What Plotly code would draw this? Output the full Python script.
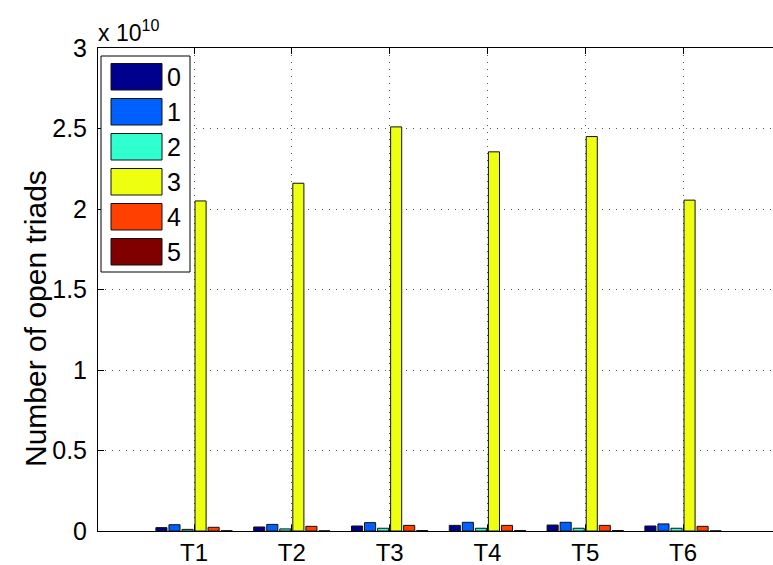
import plotly.graph_objects as go

# Time windows and open-triad counts per triad type
periods = ["T1", "T2", "T3", "T4", "T5", "T6"]
series_names = ["0", "1", "2", "3", "4", "5"]
type0 = [0.021e10, 0.025e10, 0.031e10, 0.035e10, 0.037e10, 0.031e10]
type1 = [0.039e10, 0.041e10, 0.052e10, 0.054e10, 0.054e10, 0.044e10]
type2 = [0.010e10, 0.013e10, 0.017e10, 0.017e10, 0.017e10, 0.017e10]
type3 = [2.05e10, 2.16e10, 2.51e10, 2.355e10, 2.45e10, 2.055e10]
type4 = [0.023e10, 0.029e10, 0.035e10, 0.035e10, 0.035e10, 0.029e10]
type5 = [0.002e10, 0.001e10, 0.003e10, 0.003e10, 0.003e10, 0.001e10]
y_tick_vals = [0, 0.5e10, 1e10, 1.5e10, 2e10, 2.5e10, 3e10]
y_tick_text = ["0", "0.5", "1", "1.5", "2", "2.5", "3"]

series_values = [type0, type1, type2, type3, type4, type5]
colors = ["#00008F", "#0060FF", "#30FFCF", "#EFFF10", "#FF4000", "#800000"]

W, H = 773, 565
L, R, T, B = 98, 0, 48, 34
FONT = "Liberation Sans, Arial, sans-serif"

x_pos = list(range(1, len(periods) + 1))

fig = go.Figure()
for name, vals, col in zip(series_names, series_values, colors):
    fig.add_trace(go.Bar(
        x=x_pos, y=vals, name=name,
        marker=dict(color=col, line=dict(color="#111111", width=1)),
        showlegend=False,
    ))

# pixel -> paper helpers for the hand-built legend
pw = W - L - R
ph = H - T - B


def px_x(p):
    return (p - L) / pw


def px_y(p):
    return (H - B - p) / ph


shapes = []
annotations = []
# legend frame
shapes.append(dict(type="rect", xref="paper", yref="paper",
                   x0=px_x(101), x1=px_x(190), y0=px_y(272), y1=px_y(56),
                   fillcolor="white", line=dict(color="black", width=1),
                   layer="above"))
for i, (name, col) in enumerate(zip(series_names, colors)):
    top = 63.5 + 35 * i
    shapes.append(dict(type="rect", xref="paper", yref="paper",
                       x0=px_x(111), x1=px_x(162), y0=px_y(top + 26.5), y1=px_y(top),
                       fillcolor=col, line=dict(color="#111111", width=1),
                       layer="above"))
    annotations.append(dict(xref="paper", yref="paper", x=px_x(165), y=px_y(top + 13.5),
                            text=name, showarrow=False, xanchor="left", yanchor="middle",
                            font=dict(family=FONT, size=25, color="black")))

# exponent label above the y axis
annotations.append(dict(xref="paper", yref="paper", x=0, y=1, xshift=-2, yshift=0,
                        text="x 10<sup>10</sup>", showarrow=False,
                        xanchor="left", yanchor="bottom",
                        font=dict(family=FONT, size=23, color="black")))
# y axis title
annotations.append(dict(xref="paper", yref="paper", x=0, y=px_y(319), xshift=-63,
                        text="Number of open triads", showarrow=False, textangle=-90,
                        xanchor="center", yanchor="middle",
                        font=dict(family=FONT, size=30, color="black")))

fig.update_layout(
    width=W, height=H,
    margin=dict(l=L, r=R, t=T, b=B, autoexpand=False),
    paper_bgcolor="white", plot_bgcolor="white",
    barmode="group", bargap=0.2, bargroupgap=0.15,
    shapes=shapes, annotations=annotations,
    font=dict(family=FONT, size=25, color="black"),
)
fig.update_xaxes(
    range=[0.018, 6.92], tickvals=x_pos, ticktext=periods,
    showline=True, linecolor="black", linewidth=1, mirror="ticks",
    ticks="inside", ticklen=6, tickcolor="black",
    showgrid=True, gridcolor="#555555", gridwidth=1, griddash="1px,6px",
    tickfont=dict(family=FONT, size=24, color="black"), zeroline=False,
    automargin=False,
)
fig.update_yaxes(
    range=[0, 3e10], tickvals=y_tick_vals, ticktext=y_tick_text,
    showline=True, linecolor="black", linewidth=1,
    ticks="inside", ticklen=6, tickcolor="black", ticklabelstandoff=5,
    showgrid=True, gridcolor="#555555", gridwidth=1, griddash="1px,6px",
    tickfont=dict(family=FONT, size=25, color="black"), zeroline=False,
    automargin=False,
)

fig.write_html("out.html")
